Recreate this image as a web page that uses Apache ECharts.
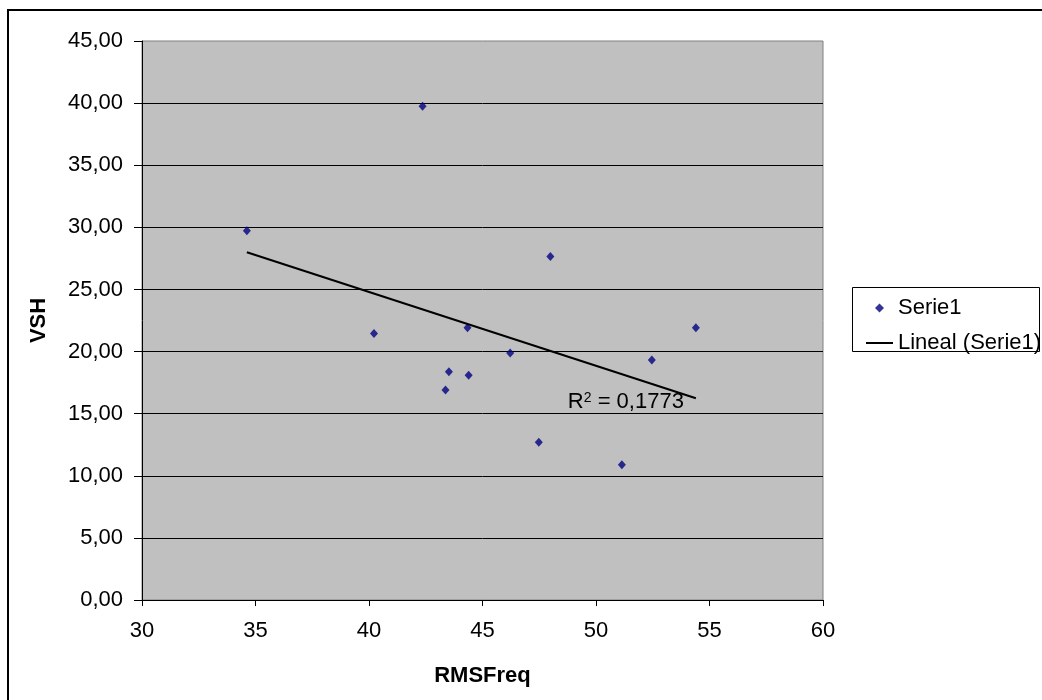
<!DOCTYPE html>
<html>
<head>
<meta charset="utf-8">
<script src="https://cdn.jsdelivr.net/npm/echarts@6/dist/echarts.min.js"></script>
<style>
html,body{margin:0;padding:0;background:#fff;}
#chart{width:1042px;height:700px;}
</style>
</head>
<body>
<div id="chart"></div>
<script>
// Data
const xValues = [34.62, 42.36, 40.22, 44.34, 46.22, 43.52, 44.39, 43.37, 47.48, 47.99, 51.14, 52.46, 54.40];
const yValues = [29.72, 39.74, 21.46, 21.92, 19.89, 18.38, 18.09, 16.91, 12.70, 27.65, 10.88, 19.32, 21.92];
const trendX = [34.62, 54.40];
const trendY = [28.00, 16.24];
const r2Text = '0,1773';
const seriesName = 'Serie1';
const trendName = 'Lineal (Serie1)';
const xTitle = 'RMSFreq';
const yTitle = 'VSH';

const FONT = '"Liberation Sans", Arial, sans-serif';
const chart = echarts.init(document.getElementById('chart'), null, {renderer: 'canvas'});

const scatterData = xValues.map((x, i) => [x, yValues[i]]);
const trendData = trendX.map((x, i) => [x, trendY[i]]);
const lastIdx = trendX.length - 1;
const r2Anchor = [[trendX[lastIdx], trendY[lastIdx]]];

const option = {
  animation: false,
  textStyle: {fontFamily: FONT},
  grid: {
    left: 142, top: 41, width: 681, height: 559,
    show: true, backgroundColor: '#c0c0c0', borderColor: '#808080', borderWidth: 1
  },
  xAxis: {
    type: 'value', min: 30, max: 60, interval: 5,
    name: xTitle, nameLocation: 'middle', nameGap: 65,
    nameTextStyle: {fontSize: 22, fontWeight: 'bold', color: '#000', fontFamily: FONT},
    axisLine: {show: true, onZero: false, lineStyle: {color: '#000', width: 1}},
    axisTick: {show: true, length: 6, lineStyle: {color: '#000'}},
    axisLabel: {fontSize: 22, color: '#000', margin: 20, fontFamily: FONT},
    splitLine: {show: false}
  },
  yAxis: {
    type: 'value', min: 0, max: 45, interval: 5,
    name: yTitle, nameLocation: 'middle', nameRotate: 90, nameGap: 92,
    nameTextStyle: {fontSize: 22, fontWeight: 'bold', color: '#000', fontFamily: FONT},
    axisLine: {show: true, lineStyle: {color: '#000', width: 1}},
    axisTick: {show: true, length: 8, lineStyle: {color: '#000'}},
    axisLabel: {
      fontSize: 22, color: '#000', margin: 19, fontFamily: FONT,
      formatter: v => v.toFixed(2).replace('.', ',')
    },
    splitLine: {show: true, showMaxLine: false, lineStyle: {color: '#000', width: 1}}
  },
  legend: {
    orient: 'vertical', left: 860, top: 292,
    itemWidth: 27, itemHeight: 9, itemGap: 13,
    textStyle: {fontSize: 22, color: '#000', lineHeight: 22, fontFamily: FONT},
    data: [
      {name: seriesName, icon: 'path://M0,0M27,9M13.5,0L18,4.5L13.5,9L9,4.5Z', itemStyle: {color: '#000080'}},
      {name: trendName, itemStyle: {color: 'rgba(0,0,0,0)', opacity: 0, borderWidth: 0}}
    ]
  },
  graphic: [
    {type: 'rect', z: -10, shape: {x: 8, y: 10, width: 1100, height: 800},
     style: {fill: 'none', stroke: '#000', lineWidth: 2}},
    {type: 'rect', z: -5, shape: {x: 852.5, y: 287.5, width: 187, height: 64},
     style: {fill: '#fff', stroke: '#000', lineWidth: 1}}
  ],
  series: [
    {
      name: seriesName, type: 'scatter', symbol: 'diamond', symbolSize: [8, 9],
      itemStyle: {color: '#000080'},
      data: scatterData, z: 3
    },
    {
      name: trendName, type: 'line', symbol: 'none', showSymbol: false,
      lineStyle: {color: '#000', width: 2},
      itemStyle: {color: '#000'},
      data: trendData, z: 4
    },
    {
      name: 'R2', type: 'scatter', symbolSize: 0, silent: true,
      itemStyle: {color: '#000'},
      data: r2Anchor, z: 5,
      label: {
        show: true,
        position: 'left',
        distance: 12,
        offset: [0, 4],
        color: '#000',
        opacity: 1,
        fontSize: 22,
        textBorderWidth: 0,
        formatter: '{a|R}{s|2}{a| = ' + r2Text + '}',
        rich: {
          a: {fontSize: 22, color: '#000', fontFamily: FONT, lineHeight: 22, textBorderWidth: 0},
          s: {fontSize: 14, color: '#000', fontFamily: FONT, verticalAlign: 'top', lineHeight: 22, textBorderWidth: 0}
        }
      }
    }
  ]
};
chart.setOption(option);
</script>
</body>
</html>
